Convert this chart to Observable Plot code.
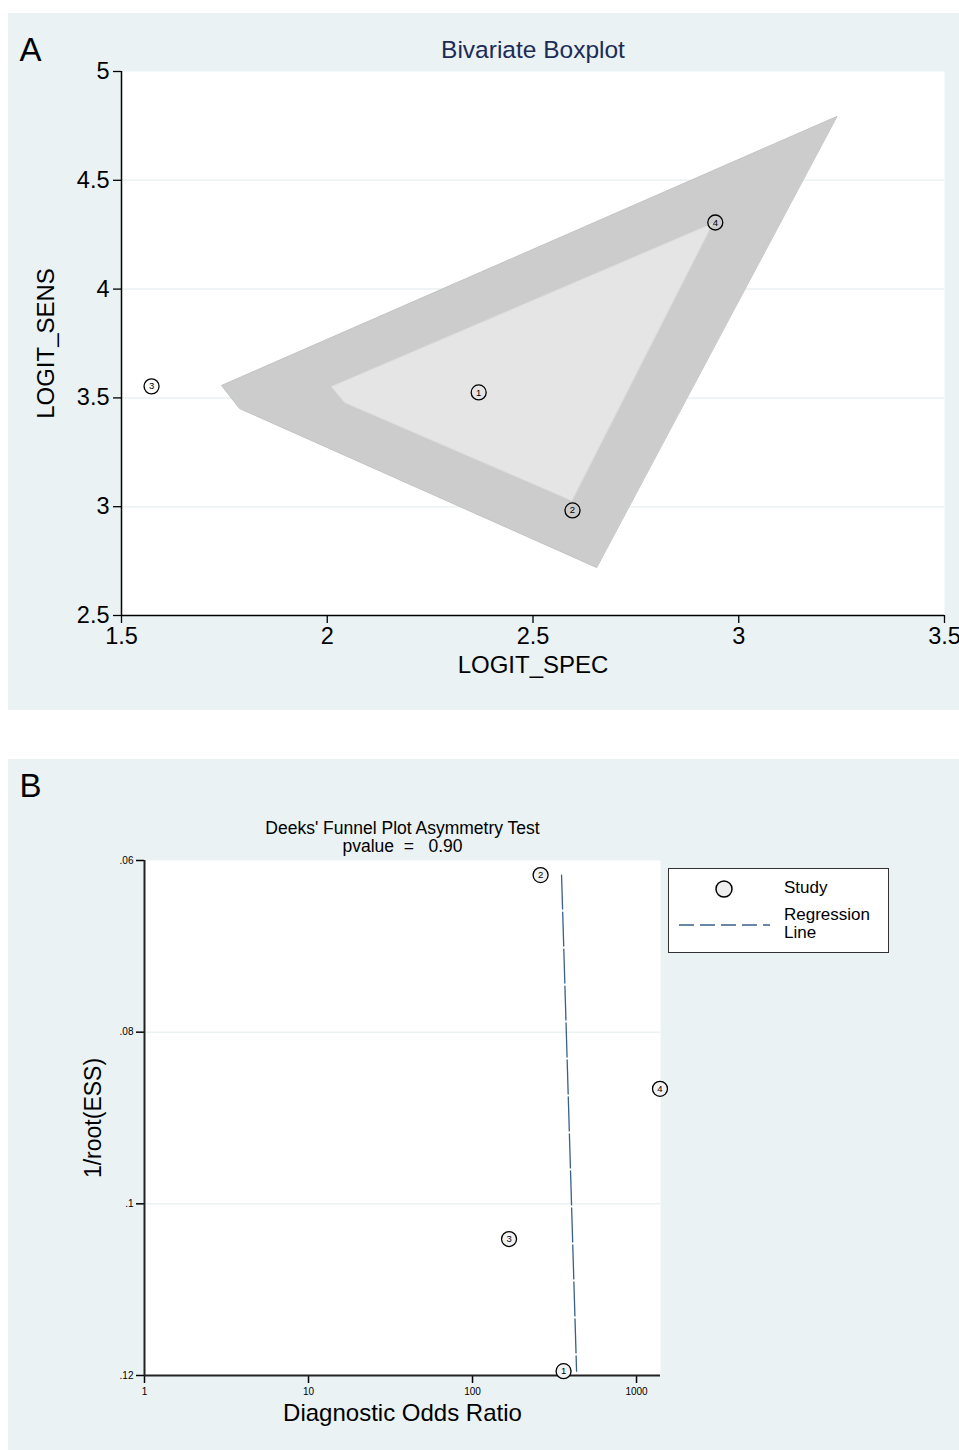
<!DOCTYPE html>
<html>
<head>
<meta charset="utf-8">
<script src="https://cdn.jsdelivr.net/npm/d3@7"></script>
<script src="https://cdn.jsdelivr.net/npm/@observablehq/plot@0.6"></script>
<style>
  html, body { margin: 0; padding: 0; background: #ffffff; }
  body { width: 959px; height: 1450px; position: relative; overflow: hidden;
         font-family: "Liberation Sans", Arial, Helvetica, sans-serif; }
  .panel { position: absolute; left: 8px; }
  #panelA { top: 13px; }
  #panelB { top: 759px; }
  .legend { position: absolute; left: 668px; top: 868px; width: 219px; height: 83px;
            background: #ffffff; border: 1.5px solid #333; font-size: 17px; color: #000; }
  .legend svg { position: absolute; left: 0; top: 0; }
  .legend .lbl { position: absolute; left: 115px; line-height: 18px; }
</style>
</head>
<body>
<div id="panelA" class="panel"></div>
<div id="panelB" class="panel"></div>
<div class="legend">
  <svg width="110" height="83">
    <circle cx="55" cy="20" r="8" fill="#eeeeee" stroke="#000" stroke-width="1.5"></circle>
    <line x1="10" y1="56" x2="101" y2="56" stroke="#3a5f8a" stroke-width="1.3" stroke-dasharray="15,6"></line>
  </svg>
  <div class="lbl" style="top: 10px;">Study</div>
  <div class="lbl" style="top: 37px;">Regression<br>Line</div>
</div>
<script>
// Study estimates (logit scale)
const studyIds = [1, 2, 3, 4];
const logitSpec = [2.368, 2.596, 1.573, 2.943];
const logitSens = [3.525, 2.983, 3.553, 4.306];

// Bivariate boxplot: outer fence and inner hinge polygons
const fenceSpec = [3.238, 1.743, 1.787, 2.654];
const fenceSens = [4.793, 3.557, 3.451, 2.721];
const hingeSpec = [2.936, 2.010, 2.042, 2.594];
const hingeSens = [4.301, 3.552, 3.479, 3.028];

// Axis ticks for panel A
const specTicks = [1.5, 2, 2.5, 3, 3.5];
const sensTicks = [2.5, 3, 3.5, 4, 4.5, 5];
const sensGrid = [3, 3.5, 4, 4.5];

// Deeks' funnel plot: diagnostic odds ratio vs 1/sqrt(ESS)
const dor = [359, 260, 167, 1390];
const invRootEss = [0.1195, 0.0617, 0.1041, 0.0866];
const regDor = [349, 431];
const regInvRootEss = [0.0617, 0.1195];
const pValue = "0.90";

// Axis ticks for panel B
const dorTicks = [1, 10, 100, 1000];
const essTicks = [0.06, 0.08, 0.1, 0.12];
const essTickLabels = [".06", ".08", ".1", ".12"];
const essGrid = [0.08, 0.1];

const font = '"Liberation Sans", Arial, Helvetica, sans-serif';
const bg = "#eaf2f3";
const navy = "#1c2c57";

const studies = studyIds.map((id, i) => ({id, spec: logitSpec[i], sens: logitSens[i]}));
const fence = fenceSpec.map((s, i) => ({spec: s, sens: fenceSens[i]}));
const hinge = hingeSpec.map((s, i) => ({spec: s, sens: hingeSens[i]}));

const plotA = Plot.plot({
  width: 951,
  height: 697,
  marginLeft: 113,
  marginRight: 15,
  marginTop: 58,
  marginBottom: 95,
  x: {domain: [1.5, 3.5]},
  y: {domain: [2.5, 5]},
  style: {background: bg, fontFamily: font, color: "#000", overflow: "visible"},
  marks: [
    Plot.frame({fill: "#ffffff", stroke: "none"}),
    Plot.gridY(sensGrid, {stroke: bg, strokeOpacity: 1, strokeWidth: 1.5}),
    Plot.line(fence, {x: "spec", y: "sens", curve: "linear-closed", fill: "#cccccc", stroke: "#c3c3c3", strokeWidth: 1}),
    Plot.line(hinge, {x: "spec", y: "sens", curve: "linear-closed", fill: "#e5e5e5", stroke: "#dcdcdc", strokeWidth: 1}),
    Plot.axisX({ticks: specTicks, tickFormat: d => String(d), tickSize: 8, tickPadding: 4, fontSize: 23.5, label: null, strokeWidth: 1.3}),
    Plot.axisY({ticks: sensTicks, tickFormat: d => String(d), tickSize: 8, tickPadding: 4, fontSize: 23.5, label: null, strokeWidth: 1.3}),
    Plot.ruleX([1.5], {stroke: "#000", strokeWidth: 1.5}),
    Plot.ruleY([2.5], {stroke: "#000", strokeWidth: 1.5}),
    Plot.dot(studies, {x: "spec", y: "sens", r: 7.5, stroke: "#000", strokeWidth: 1.3, fill: "none"}),
    Plot.text(studies, {x: "spec", y: "sens", text: "id", fontSize: 9.5}),
    Plot.text(["Bivariate Boxplot"], {frameAnchor: "top", lineAnchor: "middle", dy: -21, fontSize: 24.5, fill: navy}),
    Plot.text(["A"], {frameAnchor: "top-left", lineAnchor: "middle", textAnchor: "middle", dx: -91, dy: -21, fontSize: 33}),
    Plot.text(["LOGIT_SPEC"], {frameAnchor: "bottom", lineAnchor: "middle", dy: 50, fontSize: 24}),
    Plot.text(["LOGIT_SENS"], {frameAnchor: "left", lineAnchor: "middle", textAnchor: "middle", dx: -75, rotate: -90, fontSize: 24})
  ]
});
document.getElementById("panelA").appendChild(plotA);

const points = studyIds.map((id, i) => ({id, dor: dor[i], ess: invRootEss[i]}));
const regression = regDor.map((d, i) => ({dor: d, ess: regInvRootEss[i]}));

const plotB = Plot.plot({
  width: 951,
  height: 691,
  marginLeft: 136,
  marginRight: 299,
  marginTop: 101,
  marginBottom: 75,
  x: {type: "log", domain: [1, 1400]},
  y: {domain: [0.06, 0.12], reverse: true},
  style: {background: bg, fontFamily: font, color: "#000", overflow: "visible"},
  marks: [
    Plot.frame({fill: "#ffffff", stroke: "none"}),
    Plot.gridY(essGrid, {stroke: bg, strokeOpacity: 1, strokeWidth: 1.5}),
    Plot.axisX({ticks: dorTicks, tickFormat: d => String(d), tickSize: 8, tickPadding: 4, fontSize: 10, label: null, strokeWidth: 1.5}),
    Plot.axisY({ticks: essTicks, tickFormat: d => essTickLabels[essTicks.indexOf(d)], tickSize: 8, tickPadding: 3, fontSize: 10, label: null, strokeWidth: 1.5}),
    Plot.ruleX([1], {stroke: "#222", strokeWidth: 2}),
    Plot.ruleY([0.12], {stroke: "#222", strokeWidth: 2}),
    Plot.line(regression, {x: "dor", y: "ess", stroke: "#3a5f8a", strokeWidth: 1.3, strokeDasharray: "34,3"}),
    Plot.dot(points, {x: "dor", y: "ess", r: 7.5, stroke: "#000", strokeWidth: 1.3, fill: "#f2f2f2"}),
    Plot.text(points, {x: "dor", y: "ess", text: "id", fontSize: 9.5}),
    Plot.text(["Deeks' Funnel Plot Asymmetry Test"], {frameAnchor: "top", lineAnchor: "middle", dy: -32, fontSize: 17.5}),
    Plot.text([`pvalue  =   ${pValue}`], {frameAnchor: "top", lineAnchor: "middle", dy: -14, fontSize: 17.5}),
    Plot.text(["B"], {frameAnchor: "top-left", lineAnchor: "middle", textAnchor: "middle", dx: -114, dy: -74, fontSize: 33}),
    Plot.text(["Diagnostic Odds Ratio"], {frameAnchor: "bottom", lineAnchor: "middle", dy: 38, fontSize: 24}),
    Plot.text(["1/root(ESS)"], {frameAnchor: "left", lineAnchor: "middle", textAnchor: "middle", dx: -51, rotate: -90, fontSize: 23})
  ]
});
document.getElementById("panelB").appendChild(plotB);
</script>
</body>
</html>
